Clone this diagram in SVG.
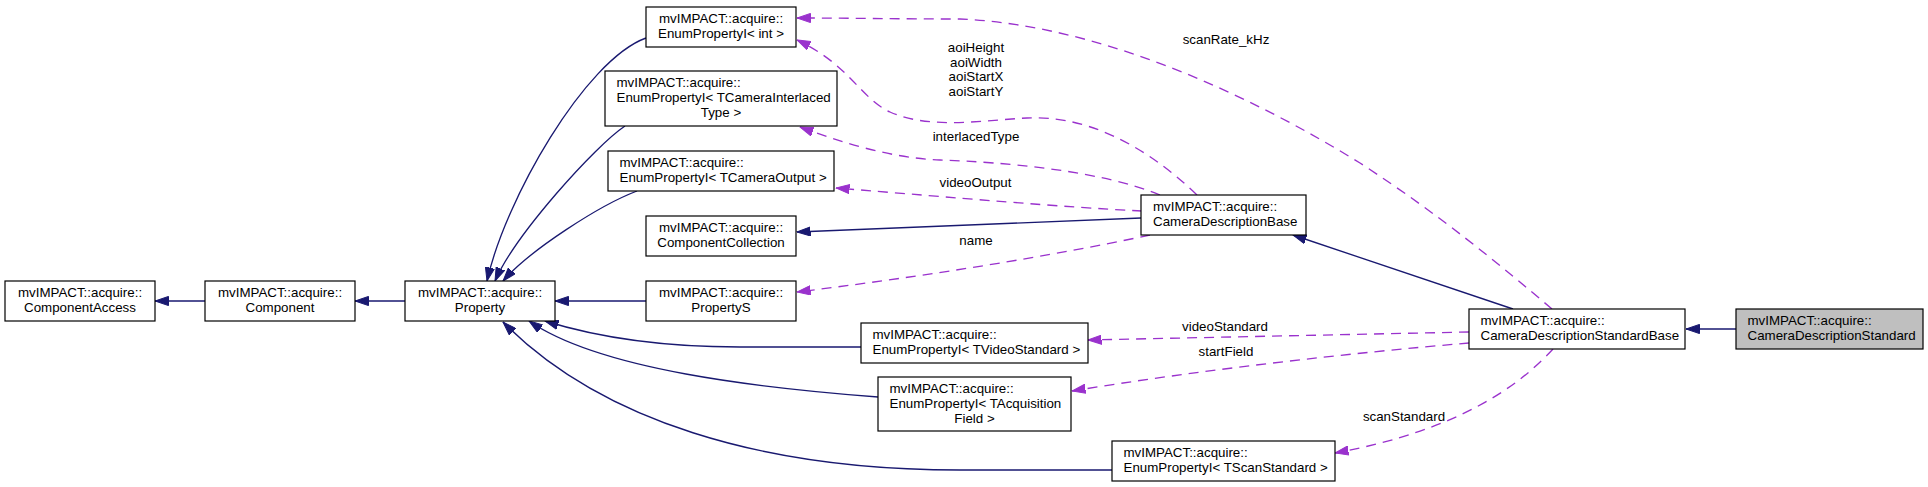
<svg xmlns="http://www.w3.org/2000/svg" width="1928" height="487" viewBox="0 0 1928 487">
<style>
rect{fill:#fff;stroke:#000;stroke-width:1.2}
rect.cur{fill:#bfbfbf}
text{font-family:"Liberation Sans",Arial,Helvetica,sans-serif;font-size:13.33px;fill:#000}
.c{text-anchor:middle}
.inh{fill:none;stroke:#191970;stroke-width:1.33;marker-end:url(#ah)}
.use{fill:none;stroke:#9a32cd;stroke-width:1.33;stroke-dasharray:10,7;marker-end:url(#ap)}
</style>
<defs>
<marker id="ah" markerUnits="userSpaceOnUse" markerWidth="14" markerHeight="10" viewBox="0 0 14 10" refX="13.5" refY="5" orient="auto"><path d="M0,0.4 L13.5,5 L0,9.6 z" fill="#191970" stroke="#191970" stroke-width="1"/></marker>
<marker id="ap" markerUnits="userSpaceOnUse" markerWidth="14" markerHeight="10" viewBox="0 0 14 10" refX="13.5" refY="5" orient="auto"><path d="M0,0.4 L13.5,5 L0,9.6 z" fill="#9a32cd" stroke="#9a32cd" stroke-width="1"/></marker>
</defs>
<rect x="0" y="0" width="1928" height="487" style="fill:#fff;stroke:none"/>
<g id="connectors">
<path class="inh" d="M205,301 L155,301"/>
<path class="inh" d="M405,301 L355,301"/>
<path class="inh" d="M646,301 L555,301"/>
<path class="inh" d="M646,38 C585,60 505,200 487,281"/>
<path class="inh" d="M625,126 C595,146 515,235 495,281"/>
<path class="inh" d="M637,191 C600,205 530,250 503,281"/>
<path class="inh" d="M861,347 L740,347 C650,347 590,335 545,321"/>
<path class="inh" d="M878,397 C760,388 600,370 529,321"/>
<path class="inh" d="M1112,470 L960,470 C760,470 600,420 503,322"/>
<path class="inh" d="M1141,218 L797,232"/>
<path class="inh" d="M1513,309 L1293,235"/>
<path class="inh" d="M1736,329 L1686,329"/>
<path class="use" d="M1197,195 C1140,140 1080,115 1027,118 C985,120 930,130 890,112 C860,98 850,65 797,40"/>
<path class="use" d="M1160,195 C1100,170 1000,162 940,160 C890,158 840,142 800,127"/>
<path class="use" d="M1142,211 C1060,207 960,198 836,188"/>
<path class="use" d="M1150,235 C1080,250 960,272 797,292"/>
<path class="use" d="M1552,309 C1500,265 1440,215 1360,163 C1250,95 1100,25 960,19 C900,19 850,18 797,18"/>
<path class="use" d="M1469,332 L1088,340"/>
<path class="use" d="M1469,343 C1350,353 1200,370 1072,391"/>
<path class="use" d="M1553,349 C1520,385 1460,430 1335,453"/>
<text class="c" x="976" y="52">aoiHeight</text>
<text class="c" x="976" y="66.7">aoiWidth</text>
<text class="c" x="976" y="81.2">aoiStartX</text>
<text class="c" x="976" y="95.6">aoiStartY</text>
<text class="c" x="976" y="141">interlacedType</text>
<text class="c" x="975.5" y="187">videoOutput</text>
<text class="c" x="976" y="245">name</text>
<text class="c" x="1226" y="44">scanRate_kHz</text>
<text class="c" x="1225" y="331">videoStandard</text>
<text class="c" x="1226" y="356">startField</text>
<text class="c" x="1404" y="421">scanStandard</text>
</g>
<g id="ComponentAccess">
<rect x="5" y="281" width="150" height="40"/>
<text class="c" x="80" y="297">mvIMPACT::acquire::</text>
<text class="c" x="80" y="312">ComponentAccess</text>
</g>
<g id="Component">
<rect x="205" y="281" width="150" height="40"/>
<text class="c" x="280" y="297">mvIMPACT::acquire::</text>
<text class="c" x="280" y="312">Component</text>
</g>
<g id="Property">
<rect x="405" y="281" width="150" height="40"/>
<text class="c" x="480" y="297">mvIMPACT::acquire::</text>
<text class="c" x="480" y="312">Property</text>
</g>
<g id="EnumPropertyI_int">
<rect x="646" y="7" width="150" height="40"/>
<text class="c" x="721" y="23">mvIMPACT::acquire::</text>
<text class="c" x="721" y="38">EnumPropertyI&lt; int &gt;</text>
</g>
<g id="EnumPropertyI_TCameraInterlacedType">
<rect x="605" y="71" width="232" height="55"/>
<text x="616.5" y="87">mvIMPACT::acquire::</text>
<text x="616.5" y="102">EnumPropertyI&lt; TCameraInterlaced</text>
<text class="c" x="721" y="117">Type &gt;</text>
</g>
<g id="EnumPropertyI_TCameraOutput">
<rect x="608" y="151" width="226" height="40"/>
<text x="619.5" y="167">mvIMPACT::acquire::</text>
<text x="619.5" y="182">EnumPropertyI&lt; TCameraOutput &gt;</text>
</g>
<g id="ComponentCollection">
<rect x="646" y="216" width="150" height="40"/>
<text class="c" x="721" y="232">mvIMPACT::acquire::</text>
<text class="c" x="721" y="247">ComponentCollection</text>
</g>
<g id="PropertyS">
<rect x="646" y="281" width="150" height="40"/>
<text class="c" x="721" y="297">mvIMPACT::acquire::</text>
<text class="c" x="721" y="312">PropertyS</text>
</g>
<g id="EnumPropertyI_TVideoStandard">
<rect x="861" y="323" width="227" height="40"/>
<text x="872.5" y="339">mvIMPACT::acquire::</text>
<text x="872.5" y="354">EnumPropertyI&lt; TVideoStandard &gt;</text>
</g>
<g id="EnumPropertyI_TAcquisitionField">
<rect x="878" y="377" width="193" height="54"/>
<text x="889.5" y="393">mvIMPACT::acquire::</text>
<text x="889.5" y="408">EnumPropertyI&lt; TAcquisition</text>
<text class="c" x="974.5" y="423">Field &gt;</text>
</g>
<g id="EnumPropertyI_TScanStandard">
<rect x="1112" y="441" width="223" height="40"/>
<text x="1123.5" y="457">mvIMPACT::acquire::</text>
<text x="1123.5" y="472">EnumPropertyI&lt; TScanStandard &gt;</text>
</g>
<g id="CameraDescriptionBase">
<rect x="1141" y="195" width="165" height="40"/>
<text x="1153" y="211">mvIMPACT::acquire::</text>
<text x="1153" y="226">CameraDescriptionBase</text>
</g>
<g id="CameraDescriptionStandardBase">
<rect x="1469" y="309" width="216" height="40"/>
<text x="1480.5" y="325">mvIMPACT::acquire::</text>
<text x="1480.5" y="340">CameraDescriptionStandardBase</text>
</g>
<g id="CameraDescriptionStandard">
<rect class="cur" x="1736" y="309" width="187" height="40"/>
<text x="1747.5" y="325">mvIMPACT::acquire::</text>
<text x="1747.5" y="340">CameraDescriptionStandard</text>
</g>
</svg>
